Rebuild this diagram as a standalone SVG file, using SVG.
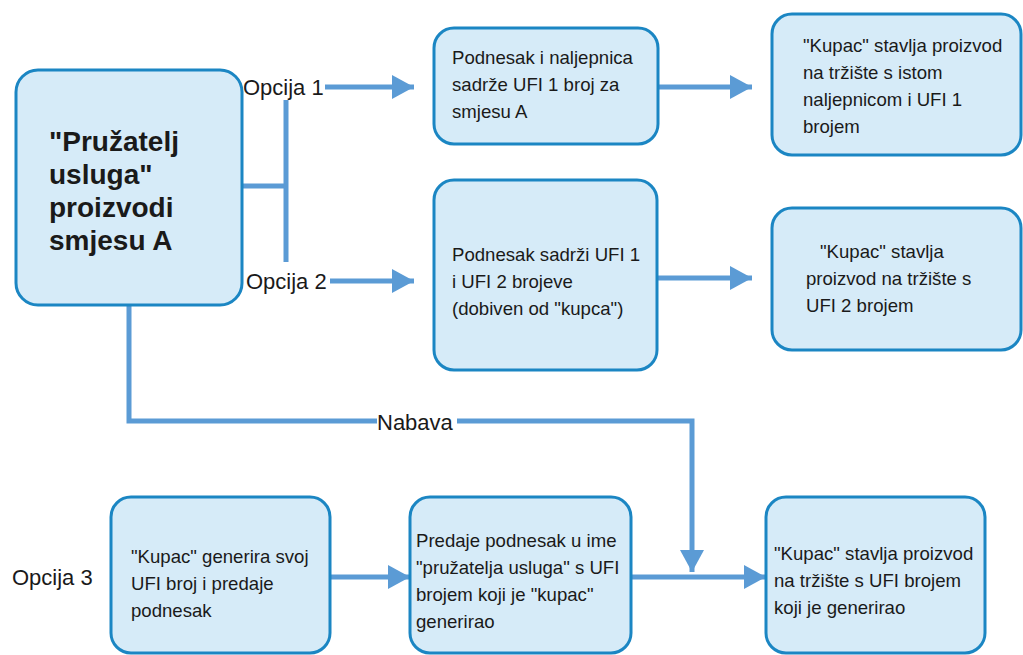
<svg xmlns="http://www.w3.org/2000/svg" width="1023" height="655" viewBox="0 0 1023 655">
<style>
.box{fill:#d6ebf8;stroke:#1b86c3;stroke-width:3}
.t{font-family:"Liberation Sans",Arial,sans-serif;font-size:18.6px;fill:#1a1a1a}
.lbl{font-family:"Liberation Sans",Arial,sans-serif;font-size:22px;fill:#1a1a1a}
.big{font-family:"Liberation Sans",Arial,sans-serif;font-size:28px;font-weight:bold;fill:#1a1a1a}
.c{fill:none;stroke:#5b9bd5;stroke-width:5}
</style>
<defs>
<marker id="ah" markerUnits="userSpaceOnUse" markerWidth="24" markerHeight="26" refX="22" refY="13" orient="auto">
<path d="M0,1 L22,13 L0,25 Z" fill="#5b9bd5"/>
</marker>
</defs>
<g id="connectors">
<path class="c" d="M325,87 H414" marker-end="url(#ah)"/>
<path class="c" d="M286,100 V262"/>
<path class="c" d="M242,186 H286"/>
<path class="c" d="M330,281 H414" marker-end="url(#ah)"/>
<path class="c" d="M658,87 H752" marker-end="url(#ah)"/>
<path class="c" d="M657,278 H752" marker-end="url(#ah)"/>
<path class="c" d="M129,305 V421 H377"/>
<path class="c" d="M457,421 H692 V572" marker-end="url(#ah)"/>
<path class="c" d="M330,577 H410" marker-end="url(#ah)"/>
<path class="c" d="M631,577 H766" marker-end="url(#ah)"/>
<text class="lbl" x="243" y="95">Opcija 1</text>
<text class="lbl" x="246" y="289">Opcija 2</text>
<text class="lbl" x="377" y="430" font-size="23.5">Nabava</text>
</g>
<g id="main">
<rect class="box" x="16" y="70" width="226" height="235" rx="22"/>
<text class="big" x="49" y="151">"Pružatelj</text>
<text class="big" x="49" y="184">usluga"</text>
<text class="big" x="49" y="217">proizvodi</text>
<text class="big" x="49" y="250">smjesu A</text>
</g>
<g id="b1">
<rect class="box" x="434" y="28" width="224" height="116" rx="20"/>
<text class="t" x="452" y="64">Podnesak i naljepnica</text>
<text class="t" x="452" y="91">sadrže UFI 1 broj za</text>
<text class="t" x="452" y="118">smjesu A</text>
</g>
<g id="c1">
<rect class="box" x="772" y="14" width="249" height="141" rx="20"/>
<text class="t" x="803" y="52">"Kupac" stavlja proizvod</text>
<text class="t" x="803" y="79">na tržište s istom</text>
<text class="t" x="803" y="106">naljepnicom i UFI 1</text>
<text class="t" x="803" y="133">brojem</text>
</g>
<g id="b2">
<rect class="box" x="434" y="180" width="223" height="190" rx="20"/>
<text class="t" x="452" y="261">Podnesak sadrži UFI 1</text>
<text class="t" x="452" y="288">i UFI 2 brojeve</text>
<text class="t" x="452" y="315">(dobiven od "kupca")</text>
</g>
<g id="c2">
<rect class="box" x="772" y="208" width="249" height="142" rx="20"/>
<text class="t" x="820" y="258">"Kupac" stavlja</text>
<text class="t" x="806" y="285">proizvod na tržište s</text>
<text class="t" x="806" y="312">UFI 2 brojem</text>
</g>
<g id="opcija3">
<text class="lbl" x="12" y="585" font-size="23.5">Opcija 3</text>
</g>
<g id="d1">
<rect class="box" x="111" y="497" width="219" height="156" rx="20"/>
<text class="t" x="131" y="563">"Kupac" generira svoj</text>
<text class="t" x="131" y="590">UFI broj i predaje</text>
<text class="t" x="131" y="617">podnesak</text>
</g>
<g id="d2">
<rect class="box" x="410" y="497" width="221" height="156" rx="20"/>
<text class="t" x="416" y="547">Predaje podnesak u ime</text>
<text class="t" x="416" y="574">"pružatelja usluga" s UFI</text>
<text class="t" x="416" y="601">brojem koji je "kupac"</text>
<text class="t" x="416" y="628">generirao</text>
</g>
<g id="d3">
<rect class="box" x="766" y="497" width="219" height="156" rx="20"/>
<text class="t" x="774" y="560">"Kupac" stavlja proizvod</text>
<text class="t" x="774" y="587">na tržište s UFI brojem</text>
<text class="t" x="774" y="614">koji je generirao</text>
</g>
</svg>
